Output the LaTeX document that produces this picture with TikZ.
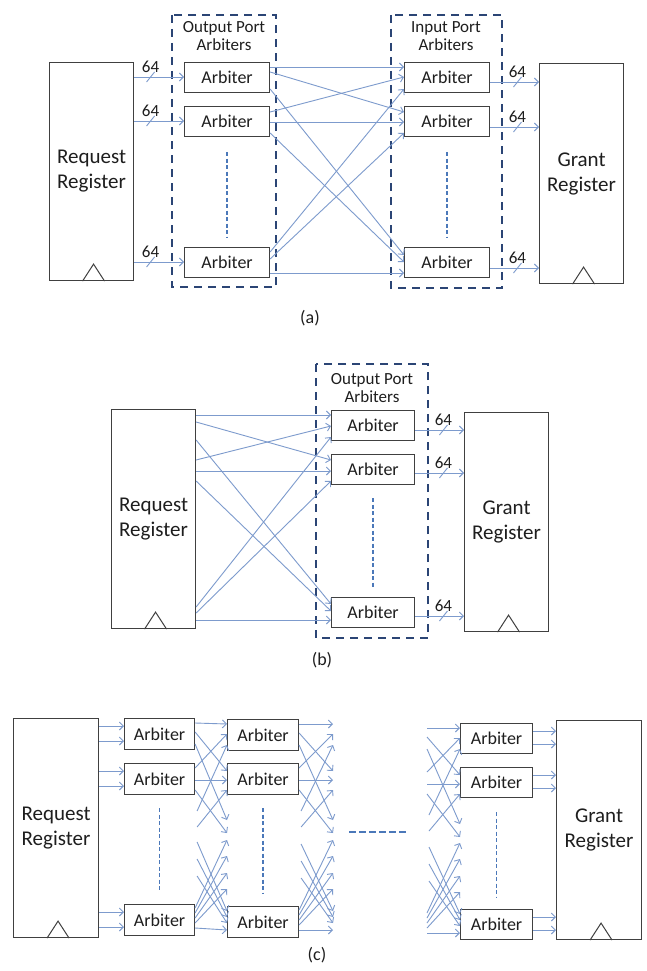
\documentclass[tikz,border=0pt]{standalone}
\usepackage{fontspec}
\setmainfont{Carlito}
\usetikzlibrary{arrows.meta,calc}
\definecolor{linec}{RGB}{125,155,205}
\definecolor{boxc}{RGB}{64,64,64}
\definecolor{grpc}{RGB}{43,69,117}
\definecolor{dotc}{RGB}{75,120,185}
\definecolor{textc}{RGB}{30,30,30}
\tikzset{
 regbox/.style={draw=boxc, line width=1.1pt, fill=white, anchor=north west, align=center, inner sep=0pt, font=\fontsize{21}{25}\selectfont, text=textc},
 arbbox/.style={draw=boxc, line width=1.1pt, fill=white, anchor=north west, inner sep=0pt, font=\fontsize{18}{20}\selectfont, text=textc},
 grpbox/.style={draw=grpc, line width=2.4pt, dash pattern=on 8pt off 6pt},
 dotline/.style={draw=dotc, line width=1.6pt, dash pattern=on 4pt off 2.5pt},
 arr/.style={draw=linec, line width=0.9pt, -{Straight Barb[length=4pt,width=8pt]}},
 slashmark/.style={draw=linec, line width=0.9pt},
 busl/.style={font=\fontsize{17}{18}\selectfont, text=textc, inner sep=0pt},
 grplbl/.style={font=\fontsize{17}{18}\selectfont, text=textc, align=center, inner sep=0pt},
 subcaption/.style={font=\fontsize{18}{20}\selectfont, text=textc, inner sep=0pt},
 tri/.style={draw=boxc, line width=1pt},
}
\newcommand\clk[1]{\draw[tri] ([xshift=-9pt]#1.south) -- ([xshift=2pt,yshift=17pt]#1.south) -- ([xshift=13pt]#1.south);}
\newcommand\busarrow[3]{%
 \draw[arr] (#1) -- coordinate[pos=#3] (bt) (#2);
 \draw[slashmark] ([shift={(-4pt,-5pt)}]bt) -- ([shift={(4pt,5pt)}]bt);
 \node[busl, anchor=south] at ([yshift=4pt]bt) {64};
}
\newcommand\upgrp[4]{%
 \draw[arr] ([yshift=-5pt]#1) -- ([yshift=-5pt]#3);
 \draw[arr] ([yshift=-14pt]#1) -- ([yshift=-8pt]#4);
 \draw[arr] ([yshift=-26pt]#1) -- ([yshift=-57pt]#4);
 \draw[arr] ([yshift=-5pt]#2) -- ([yshift=-15pt]#3);
 \draw[arr] ([yshift=-17pt]#2) -- ([yshift=-17pt]#4);
 \draw[arr] ([yshift=-27pt]#2) -- ([yshift=-70pt]#4);
 \draw[arr] ([xshift=2pt,yshift=-48pt]#2) -- ([yshift=-26pt]#3);
 \draw[arr] ([xshift=2pt,yshift=-64pt]#2) -- ([yshift=-27pt]#4);
}
\newcommand\lowgrp[2]{%
 \draw[arr] ([yshift=-24pt]#1) -- ([yshift=-24pt]#2);
 \draw[arr] ([yshift=-4pt]#1) -- ([yshift=66pt]#2);
 \draw[arr] ([yshift=-9pt]#1) -- ([yshift=50pt]#2);
 \draw[arr] ([yshift=-14pt]#1) -- ([yshift=33pt]#2);
 \draw[arr] ([yshift=-19pt]#1) -- ([yshift=17pt]#2);
 \draw[arr] ([xshift=2pt,yshift=62pt]#1) -- ([yshift=-5pt]#2);
 \draw[arr] ([xshift=2pt,yshift=45pt]#1) -- ([yshift=-11pt]#2);
 \draw[arr] ([xshift=2pt,yshift=28pt]#1) -- ([yshift=-17pt]#2);
}
\begin{document}
\begin{tikzpicture}[x=1pt,y=-1pt]
\useasboundingbox (0,0) rectangle (647,971);
\fill[white] (0,0) rectangle (647,971);

% ================= (a) =================
\draw[grpbox] (172,15) rectangle (276,287);
\node[grplbl] (lgo) at (224,36) {Output Port\\Arbiters};
\draw[grpbox] (391,15) rectangle (502,288);
\node[grplbl] (lgi) at (446,36) {Input Port\\Arbiters};

\node[regbox, minimum width=84pt, minimum height=218pt] (ra) at (49,62) {Request\\Register};
\clk{ra}
\node[regbox, minimum width=84pt, minimum height=220pt] (ga) at (539,63) {Grant\\Register};
\clk{ga}

\node[arbbox, minimum width=85pt, minimum height=30pt] (oa1) at (184,62) {Arbiter};
\node[arbbox, minimum width=85pt, minimum height=30pt] (oa2) at (184,106) {Arbiter};
\node[arbbox, minimum width=85pt, minimum height=30pt] (oa3) at (184,247) {Arbiter};
\node[arbbox, minimum width=85pt, minimum height=30pt] (ia1) at (404,62) {Arbiter};
\node[arbbox, minimum width=85pt, minimum height=30pt] (ia2) at (404,106) {Arbiter};
\node[arbbox, minimum width=85pt, minimum height=30pt] (ia3) at (404,247) {Arbiter};
\draw[dotline] (oa2.south |- 0,152) -- (oa3.north |- 0,237);
\draw[dotline] (ia2.south |- 0,152) -- (ia3.north |- 0,238);

\busarrow{ra.east |- 0,77}{oa1.west |- 0,77}{0.33}
\busarrow{ra.east |- 0,121}{oa2.west |- 0,121}{0.33}
\busarrow{ra.east |- 0,262}{oa3.west |- 0,262}{0.33}

\draw[arr] (oa1.east |- 0,67) -- (ia1.west |- 0,67);
\draw[arr] (oa1.east |- 0,72) -- (ia2.west |- 0,112);
\draw[arr] (oa1.east |- 0,89) -- (ia3.west |- 0,255);
\draw[arr] (oa2.east |- 0,112) -- (ia1.west |- 0,77);
\draw[arr] (oa2.east |- 0,122) -- (ia2.west |- 0,122);
\draw[arr] (oa2.east |- 0,133) -- (ia3.west |- 0,262);
\draw[arr] (oa3.east |- 0,252) -- (ia1.west |- 0,89);
\draw[arr] (oa3.east |- 0,259) -- (ia2.west |- 0,133);
\draw[arr] (oa3.east |- 0,273) -- (ia3.west |- 0,273);

\busarrow{ia1.east |- 0,82}{ga.west |- 0,82}{0.56}
\busarrow{ia2.east |- 0,127}{ga.west |- 0,127}{0.56}
\busarrow{ia3.east |- 0,268}{ga.west |- 0,268}{0.56}

\node[subcaption] (capa) at (310,318) {(a)};

% ================= (b) =================
\draw[grpbox] (316,364) rectangle (428,638);
\node[grplbl] (lgb) at (372,388) {Output Port\\Arbiters};
\node[regbox, minimum width=84pt, minimum height=219pt] (rb) at (111,409) {Request\\Register};
\clk{rb}
\node[regbox, minimum width=84pt, minimum height=219pt] (gb) at (464,412) {Grant\\Register};
\clk{gb}
\node[arbbox, minimum width=83pt, minimum height=30pt] (ob1) at (331,410) {Arbiter};
\node[arbbox, minimum width=83pt, minimum height=30pt] (ob2) at (331,454) {Arbiter};
\node[arbbox, minimum width=83pt, minimum height=30pt] (ob3) at (331,597) {Arbiter};
\draw[dotline] (ob2.south |- 0,498) -- (ob3.north |- 0,588);

\draw[arr] (rb.east |- 0,415) -- (ob1.west |- 0,415);
\draw[arr] (rb.east |- 0,422) -- (ob2.west |- 0,460);
\draw[arr] (rb.east |- 0,440) -- (ob3.west |- 0,604);
\draw[arr] (rb.east |- 0,460) -- (ob1.west |- 0,426);
\draw[arr] (rb.east |- 0,471) -- (ob2.west |- 0,471);
\draw[arr] (rb.east |- 0,481) -- (ob3.west |- 0,611);
\draw[arr] (rb.east |- 0,607) -- (ob1.west |- 0,437);
\draw[arr] (rb.east |- 0,613) -- (ob2.west |- 0,481);
\draw[arr] (rb.east |- 0,620) -- (ob3.west |- 0,620);

\busarrow{ob1.east |- 0,430}{gb.west |- 0,430}{0.58}
\busarrow{ob2.east |- 0,473}{gb.west |- 0,473}{0.58}
\busarrow{ob3.east |- 0,616}{gb.west |- 0,616}{0.58}

\node[subcaption] (capb) at (322,660) {(b)};

% ================= (c) =================
\node[regbox, minimum width=85pt, minimum height=219pt] (rc) at (13,718) {Request\\Register};
\clk{rc}
\node[regbox, minimum width=85pt, minimum height=219pt] (gc) at (556,720) {Grant\\Register};
\clk{gc}
\node[arbbox, minimum width=70pt, minimum height=31pt] (c1a) at (124,718) {Arbiter};
\node[arbbox, minimum width=70pt, minimum height=31pt] (c1b) at (124,763) {Arbiter};
\node[arbbox, minimum width=70pt, minimum height=31pt] (c1c) at (124,904) {Arbiter};
\node[arbbox, minimum width=71pt, minimum height=31pt] (c2a) at (227,719) {Arbiter};
\node[arbbox, minimum width=71pt, minimum height=31pt] (c2b) at (227,763) {Arbiter};
\node[arbbox, minimum width=71pt, minimum height=31pt] (c2c) at (227,906) {Arbiter};
\node[arbbox, minimum width=72pt, minimum height=30pt] (c3a) at (460,723) {Arbiter};
\node[arbbox, minimum width=72pt, minimum height=30pt] (c3b) at (460,767) {Arbiter};
\node[arbbox, minimum width=72pt, minimum height=30pt] (c3c) at (460,909) {Arbiter};
\draw[dotline] (c1b.south |- 0,808) -- (c1c.north |- 0,892);
\draw[dotline] (c2b.south |- 0,808) -- (c2c.north |- 0,893);
\draw[dotline] (c3b.south |- 0,812) -- (c3c.north |- 0,897);
\coordinate (gapl) at (349,832);
\coordinate (gapr) at (408,832);
\draw[draw=dotc, line width=1.8pt, dash pattern=on 7pt off 3pt] (gapl) -- (gapr);

% register -> column 1
\draw[arr] (rc.east |- 0,726) -- (c1a.west |- 0,726);
\draw[arr] (rc.east |- 0,741) -- (c1a.west |- 0,741);
\draw[arr] (rc.east |- 0,771) -- (c1b.west |- 0,771);
\draw[arr] (rc.east |- 0,786) -- (c1b.west |- 0,786);
\draw[arr] (rc.east |- 0,912) -- (c1c.west |- 0,912);
\draw[arr] (rc.east |- 0,927) -- (c1c.west |- 0,927);

% stage 1
\upgrp{c1a.north east}{c1b.north east}{c2a.north west}{c2b.north west}
\lowgrp{c1c.north east}{c2c.north west}
% stage 2 (free ends)
\coordinate (v2a) at (333,719);
\coordinate (v2b) at (333,763);
\coordinate (v2c) at (333,906);
\upgrp{c2a.north east}{c2b.north east}{v2a}{v2b}
\lowgrp{c2c.north east}{v2c}
% stage 3 (free starts)
\coordinate (v3a) at (427,723);
\coordinate (v3b) at (427,767);
\coordinate (v3c) at (427,909);
\upgrp{v3a}{v3b}{c3a.north west}{c3b.north west}
\lowgrp{v3c}{c3c.north west}

% column 3 -> grant register
\draw[arr] (c3a.east |- 0,731) -- (gc.west |- 0,731);
\draw[arr] (c3a.east |- 0,744) -- (gc.west |- 0,744);
\draw[arr] (c3b.east |- 0,775) -- (gc.west |- 0,775);
\draw[arr] (c3b.east |- 0,788) -- (gc.west |- 0,788);
\draw[arr] (c3c.east |- 0,917) -- (gc.west |- 0,917);
\draw[arr] (c3c.east |- 0,930) -- (gc.west |- 0,930);

\node[subcaption] (capc) at (317,955) {(c)};
\end{tikzpicture}
\end{document}
